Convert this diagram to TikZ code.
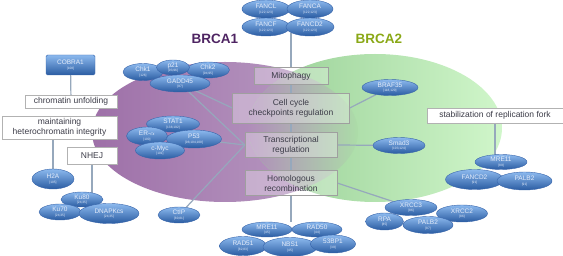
\documentclass[tikz,border=0pt]{standalone}
\usepackage{fontspec}
\setmainfont{Liberation Sans}
\usepackage{tikz}
\usetikzlibrary{shapes.geometric,backgrounds,shadows}
\definecolor{cPurpD}{RGB}{158,112,168}
\definecolor{cPurpL}{RGB}{188,160,198}
\definecolor{cGrnD}{RGB}{150,206,148}
\definecolor{cGrnL}{RGB}{208,246,202}
\definecolor{cMixA}{RGB}{176,140,186}
\definecolor{cMixM}{RGB}{172,170,180}
\definecolor{cMixB}{RGB}{172,220,168}
\definecolor{cProtTop}{RGB}{140,185,238}
\definecolor{cProtBot}{RGB}{42,92,162}
\definecolor{cProtLine}{RGB}{55,100,170}
\definecolor{cProtText}{RGB}{228,236,250}
\definecolor{cText}{RGB}{60,60,72}
\definecolor{cLink}{RGB}{150,168,188}
\definecolor{cBrcaA}{RGB}{78,36,98}
\definecolor{cBrcaB}{RGB}{138,168,22}
\newcommand{\protlab}[2]{#1\\[-2.2pt]{\fontsize{3.2}{3.6}\selectfont #2}}
\newcommand{\setA}{(225,132) ellipse [x radius=133pt,y radius=70pt]}
\newcommand{\setB}{(375,128) ellipse [x radius=127pt,y radius=74pt]}
\tikzset{
  prot/.style={ellipse,draw=cProtLine,line width=0.4pt,top color=cProtTop,
               bottom color=cProtBot,text=cProtText,inner sep=0pt,align=center,
               font=\fontsize{6.5}{7}\selectfont},
  psize/.style 2 args={minimum width=#1pt,minimum height=#2pt},
  inbox/.style={rectangle,draw=gray!75,fill=white,fill opacity=0.3,text opacity=1,
                text=cText,align=center,inner sep=1pt,font=\fontsize{8.5}{10}\selectfont},
  outbox/.style={inbox,fill opacity=1,draw=gray!60,
                 drop shadow={shadow xshift=0.8pt,shadow yshift=-0.8pt,opacity=0.25}},
  cobrabox/.style={rectangle,rounded corners=1.5pt,draw=cProtLine,line width=0.4pt,
                   top color=cProtTop,bottom color=cProtBot,text=cProtText,
                   inner sep=0pt,align=center,font=\fontsize{6.5}{7}\selectfont},
  title/.style={font=\fontsize{13.5}{15}\selectfont\bfseries},
  link/.style={draw=cLink,line width=1.2pt}
}
\begin{document}
\begin{tikzpicture}[x=1pt,y=-1pt]
  \useasboundingbox (0,0) rectangle (563,256);

  % titles
  \node[title,text=cBrcaA] (brcaA) at (215,39) {BRCA1};
  \node[title,text=cBrcaB] (brcaB) at (379,39) {BRCA2};

  % function boxes
  \node[inbox,minimum width=74pt,minimum height=17pt] (mito) at (291,76) {Mitophagy};
  \node[inbox,minimum width=117pt,minimum height=30pt] (cell) at (291,108)
       {Cell cycle\\checkpoints regulation};
  \node[inbox,minimum width=92pt,minimum height=25pt] (trans) at (291,145)
       {Transcriptional\\regulation};
  \node[inbox,minimum width=92pt,minimum height=25pt] (homol) at (291,183)
       {Homologous\\recombination};
  \node[outbox,minimum width=92pt,minimum height=13pt] (chrom) at (71,101.5)
       {chromatin unfolding};
  \node[outbox,minimum width=115pt,minimum height=23pt] (maint) at (59.5,127.5)
       {maintaining\\heterochromatin integrity};
  \node[outbox,minimum width=50pt,minimum height=17pt] (nhej) at (92,155.5) {NHEJ};
  \node[outbox,minimum width=136pt,minimum height=15pt] (stab) at (495,115.5)
       {stabilization of replication fork};
  \node[cobrabox,minimum width=49pt,minimum height=20pt] (cobra) at (70.5,65)
       {\protlab{COBRA1}{[108]}};

  % Fanconi group
  \node[prot,psize={48}{18}] (fancl) at (266,9) {\protlab{FANCL}{[122,123]}};
  \node[prot,psize={46}{18}] (fanca) at (310,9) {\protlab{FANCA}{[122,123]}};
  \node[prot,psize={48}{18}] (fancf) at (266,27) {\protlab{FANCF}{[122,123]}};
  \node[prot,psize={48}{18}] (fancdA) at (310,27) {\protlab{FANCD2}{[122,123]}};
  \coordinate (fanc) at (291,33);

  % checkpoint group
  \node[prot,psize={40}{17}] (chkA) at (143,72) {\protlab{Chk1}{[126]}};
  \node[prot,psize={43}{16}] (chkB) at (208,70) {\protlab{Chk2}{[94,95]}};
  \node[prot,psize={33}{15}] (pA) at (173,67.5) {\protlab{p21}{[93,96]}};
  \node[prot,psize={60}{17}] (gadd) at (180,83.5) {\protlab{GADD45}{[97]}};

  % transcription group
  \node[prot,psize={53}{16}] (stat) at (173,124) {\protlab{STAT1}{[138,192]}};
  \node[prot,psize={41}{18}] (era) at (147,136) {\protlab{ER-$\alpha$}{[100]}};
  \node[prot,psize={55}{18}] (pB) at (194,139) {\protlab{P53}{[98,104,100]}};
  \node[prot,psize={49}{17}] (myc) at (160,150.5) {\protlab{c-Myc}{[101]}};

  % NHEJ group
  \node[prot,psize={42}{20}] (hA) at (53,179) {\protlab{H2A}{[105]}};
  \node[prot,psize={42}{15}] (kuB) at (82,199.5) {\protlab{Ku80}{[24,35]}};
  \node[prot,psize={42}{16}] (kuA) at (60,212) {\protlab{Ku70}{[24,35]}};
  \node[prot,psize={60}{20}] (dnapk) at (109,213.5) {\protlab{DNAPKcs}{[24,35]}};
  \node[prot,psize={42}{16}] (ctip) at (179,215) {\protlab{CtIP}{[80,81]}};

  % HR group
  \node[prot,psize={50}{15}] (mreA) at (267,229.5) {\protlab{MRE11}{[45]}};
  \node[prot,psize={50}{15}] (radB) at (317,229.5) {\protlab{RAD50}{[44]}};
  \node[prot,psize={47}{19}] (radA) at (243,246) {\protlab{RAD51}{[82,83]}};
  \node[prot,psize={54}{19}] (nbs) at (290,247) {\protlab{NBS1}{[45]}};
  \node[prot,psize={45}{18}] (bp) at (333,244) {\protlab{53BP1}{[39]}};
  \coordinate (mrn) at (291,222);

  % BRCA2 partners
  \node[prot,psize={56}{16}] (braf) at (390,87.5) {\protlab{BRAF35}{[118,120]}};
  \node[prot,psize={52}{16}] (smad) at (399,145.5) {\protlab{Smad3}{[103,124]}};
  \node[prot,psize={52}{15}] (mreB) at (501,162) {\protlab{MRE11}{[89]}};
  \node[prot,psize={58}{20}] (fancdB) at (474.5,179.5) {\protlab{FANCD2}{[91]}};
  \node[prot,psize={55}{18}] (palbA) at (524.5,181) {\protlab{PALB2}{[91]}};
  \node[prot,psize={52}{16}] (xrccC) at (411,207.5) {\protlab{XRCC3}{[86]}};
  \node[prot,psize={51}{17}] (xrccB) at (462,213.5) {\protlab{XRCC2}{[86]}};
  \node[prot,psize={38}{17}] (rpa) at (384.5,221.5) {\protlab{RPA}{[85]}};
  \node[prot,psize={50}{17}] (palbB) at (428,225) {\protlab{PALB2}{[87]}};

  \begin{scope}[on background layer]
    % BRCA1 / BRCA2 sets and their overlap
    \shade[left color=cPurpD,right color=cPurpL] \setA;
    \shade[left color=cGrnD,right color=cGrnL] \setB;
    \begin{scope}
      \clip \setA;
      \clip \setB;
      \shade[left color=cMixA,middle color=cMixM,right color=cMixB]
            (248,50) rectangle (358,210);
    \end{scope}
    % connectors
    \draw[link] (fanc) -- (mito) -- (cell) -- (trans) -- (homol) -- (mrn);
    \draw[link] (cobra) -- (chrom);
    \draw[link] (hA.north |- maint.south) -- (hA.center);
    \draw[link] (nhej.south) -- (nhej.south |- kuB.center);
    \draw[link] (gadd) -- (cell.west);
    \draw[link] (gadd) -- (trans.west);
    \draw[link] (pB) -- (trans.west);
    \draw[link] (ctip) -- (trans.west);
    \draw[link] (cell.east) -- (braf);
    \draw[link] (trans.east) -- (smad);
    \draw[link] (homol.east) -- (xrccC);
    \draw[link] (stab.south) -- (stab.south |- mreB.center);
  \end{scope}
\end{tikzpicture}
\end{document}
